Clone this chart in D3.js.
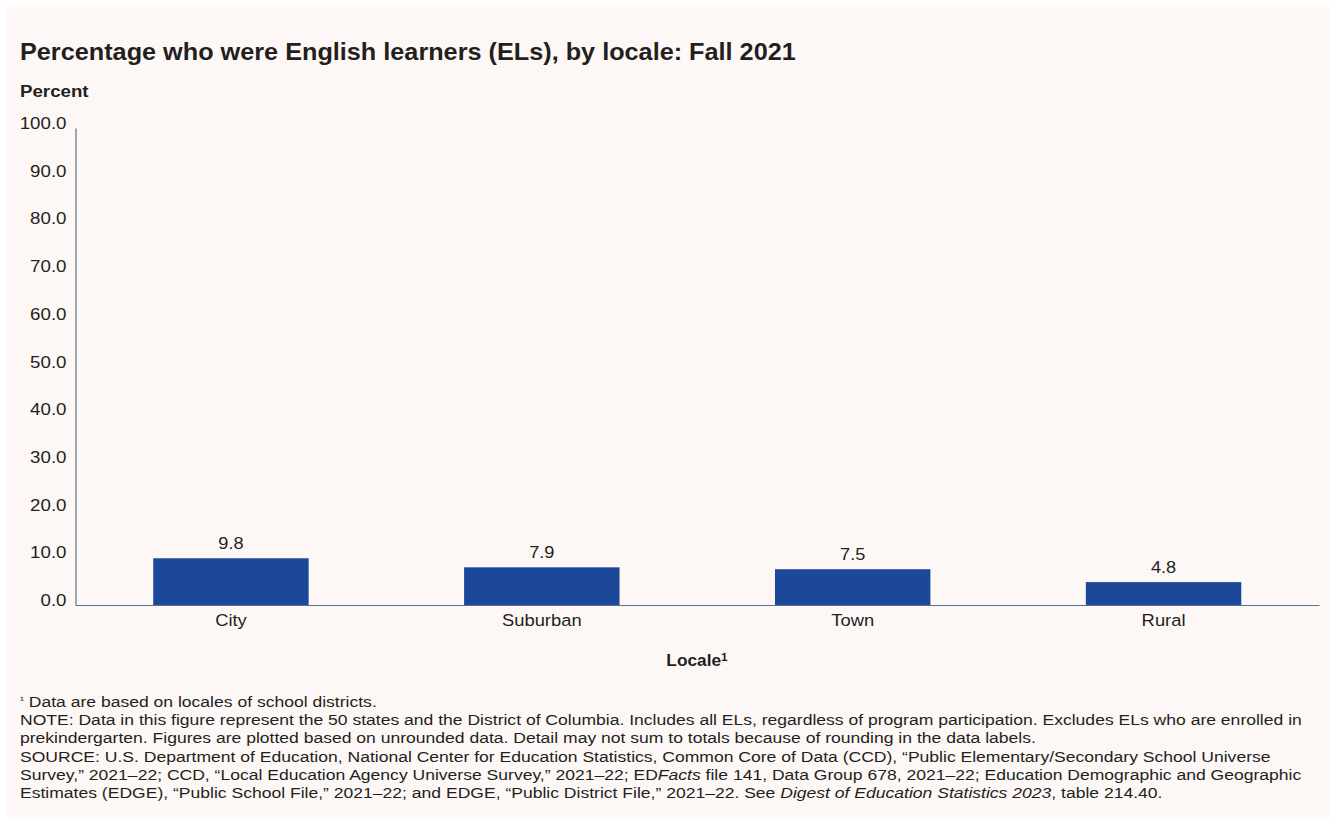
<!DOCTYPE html>
<html>
<head>
<meta charset="utf-8">
<script src="https://cdn.jsdelivr.net/npm/d3@7"></script>
<style>
  body { margin: 0; background: #ffffff; }
  svg { display: block; font-family: "Liberation Sans", Arial, sans-serif; }
</style>
</head>
<body>
<svg id="drawing_region"></svg>
<script>
const categories = ['City', 'Suburban', 'Town', 'Rural'];
const values = [9.8, 7.9, 7.5, 4.8];
const valueLabels = ['9.8', '7.9', '7.5', '4.8'];
const yTicks = [0, 10, 20, 30, 40, 50, 60, 70, 80, 90, 100];

const title = 'Percentage who were English learners (ELs), by locale: Fall 2021';
const notes = [
    [{ t: '\u00B9', sup: true }, { t: ' Data are based on locales of school districts.' }],
    [{ t: 'NOTE: Data in this figure represent the 50 states and the District of Columbia. Includes all ELs, regardless of program participation. Excludes ELs who are enrolled in' }],
    [{ t: 'prekindergarten. Figures are plotted based on unrounded data. Detail may not sum to totals because of rounding in the data labels.' }],
    [{ t: 'SOURCE: U.S. Department of Education, National Center for Education Statistics, Common Core of Data (CCD), \u201CPublic Elementary/Secondary School Universe' }],
    [{ t: 'Survey,\u201D  2021\u201322; CCD, \u201CLocal Education Agency Universe Survey,\u201D 2021\u201322; ED' }, { t: 'Facts', it: true }, { t: ' file 141, Data Group 678, 2021\u201322; Education Demographic and Geographic' }],
    [{ t: 'Estimates (EDGE), \u201CPublic School File,\u201D 2021\u201322; and EDGE, \u201CPublic District File,\u201D 2021\u201322. See ' }, { t: 'Digest of Education Statistics 2023', it: true }, { t: ', table 214.40.' }]
];

const width = 1330, height = 817;
const margin = { top: 128, right: 11, bottom: 212, left: 75.5 };
const textColor = '#231f20';

// the original type is set a little wider than the installed fonts
function stretch(sel, sx) {
    sel.each(function () {
        const t = d3.select(this);
        const x = +t.attr('x') || 0;
        const y = +t.attr('y') || 0;
        t.attr('x', 0).attr('y', 0)
            .attr('transform', `translate(${x}, ${y}) scale(${sx}, 1)`);
    });
}

const svg = d3.select('#drawing_region')
    .attr('width', width)
    .attr('height', height);

svg.append('rect')
    .attr('x', 7).attr('y', 5)
    .attr('width', width - 7).attr('height', height - 5)
    .attr('fill', '#fdf8f6');

svg.append('text')
    .attr('x', 20).attr('y', 60)
    .attr('font-size', 23).attr('font-weight', 'bold')
    .attr('fill', textColor)
    .text(title)
    .call(stretch, 1.098);

svg.append('text')
    .attr('x', 20).attr('y', 97)
    .attr('font-size', 17).attr('font-weight', 'bold')
    .attr('fill', textColor)
    .text('Percent')
    .call(stretch, 1.1);

const innerW = width - margin.left - margin.right;
const innerH = height - margin.top - margin.bottom;

const chart = svg.append('g')
    .attr('transform', `translate(${margin.left}, ${margin.top})`);

const xscale = d3.scaleBand()
    .domain(categories)
    .range([0, innerW])
    .paddingInner(0.5)
    .paddingOuter(0.25);

const yscale = d3.scaleLinear()
    .domain([0, 100])
    .range([innerH, 0]);

// y axis
const yaxis = d3.axisLeft(yscale)
    .tickValues(yTicks)
    .tickFormat(d3.format('.1f'))
    .tickSize(0)
    .tickPadding(9);

const yg = chart.append('g').call(yaxis);
yg.select('.domain').attr('stroke', '#5b7388').attr('stroke-width', 1.2);
yg.selectAll('text')
    .attr('font-size', 17)
    .attr('font-family', '"Liberation Sans", Arial, sans-serif')
    .attr('fill', textColor)
    .attr('dy', '0.03em')
    .call(stretch, 1.1);

// bars
chart.selectAll('rect.bar')
    .data(categories)
    .join('rect')
    .attr('class', 'bar')
    .attr('x', d => xscale(d))
    .attr('width', xscale.bandwidth())
    .attr('y', (d, i) => yscale(values[i]))
    .attr('height', (d, i) => innerH - yscale(values[i]))
    .attr('fill', '#1b4899');

chart.selectAll('text.vlabel')
    .data(categories)
    .join('text')
    .attr('class', 'vlabel')
    .attr('x', d => xscale(d) + xscale.bandwidth() / 2)
    .attr('y', (d, i) => yscale(values[i]) - 9)
    .attr('text-anchor', 'middle')
    .attr('font-size', 17)
    .attr('fill', textColor)
    .text((d, i) => valueLabels[i])
    .call(stretch, 1.07);

// x axis
const xaxis = d3.axisBottom(xscale).tickSize(0).tickPadding(9);
const xg = chart.append('g')
    .attr('transform', `translate(0, ${innerH})`)
    .call(xaxis);
xg.select('.domain').attr('stroke', '#5b7388').attr('stroke-width', 1.2);
xg.selectAll('text')
    .attr('font-size', 17)
    .attr('font-family', '"Liberation Sans", Arial, sans-serif')
    .attr('fill', textColor)
    .call(stretch, 1.08);

const xtitle = svg.append('text')
    .attr('x', 697).attr('y', 666)
    .attr('text-anchor', 'middle')
    .attr('font-size', 16).attr('font-weight', 'bold')
    .attr('fill', textColor);
xtitle.append('tspan').text('Locale');
xtitle.append('tspan').attr('font-size', 11).attr('dy', -5).text('1');
xtitle.call(stretch, 1.08);

// notes
const noteG = svg.append('g').attr('fill', textColor).attr('font-size', 15);
notes.forEach((line, i) => {
    const t = noteG.append('text')
        .attr('x', 20)
        .attr('y', 707 + i * 18.2);
    line.forEach(seg => {
        const s = t.append('tspan').text(seg.t);
        if (seg.it) s.attr('font-style', 'italic');
        if (seg.sup) s.attr('font-size', 10).attr('baseline-shift', '4');
    });
    t.call(stretch, 1.17);
});
</script>
</body>
</html>
